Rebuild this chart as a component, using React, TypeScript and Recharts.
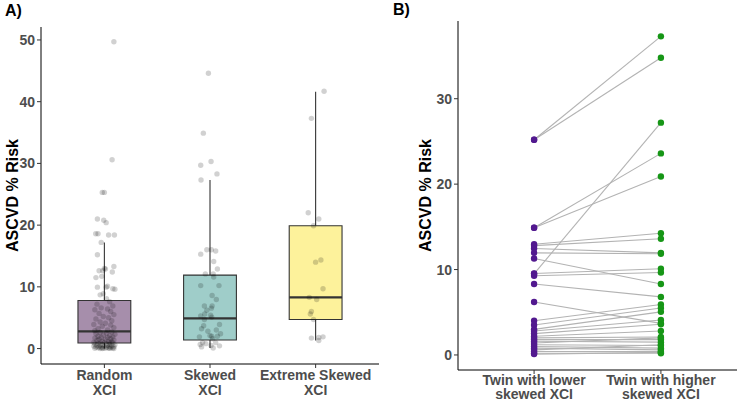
import {
  ScatterChart, Scatter, XAxis, YAxis, ReferenceArea, ReferenceLine,
} from 'recharts';

// Panel A: box summaries per XCI group
const boxCategories = [1, 2, 3];
const boxTickLines = [['Random', 'XCI'], ['Skewed', 'XCI'], ['Extreme Skewed', 'XCI']];
const boxLower = [0, 0.1, 1.3];
const boxQ1 = [0.9, 1.4, 4.7];
const boxMedian = [2.8, 4.9, 8.3];
const boxQ3 = [7.8, 11.9, 19.9];
const boxUpper = [17.2, 27.3, 41.6];
const boxFills = ['#a68eab', '#9fcdc9', '#fdf29b'];

// [risk, jitter]
const randomPoints: [number, number][] = [
  [49.7, 0.09], [30.6, 0.073], [25.3, -0.02], [25.3, 0.0], [21.0, -0.066], [20.4, 0.017],
  [20.8, -0.006], [18.6, -0.082], [18.6, -0.06], [18.4, 0.04], [18.4, 0.095], [17.2, -0.03],
  [15.2, -0.066], [13.3, 0.09], [13.0, 0.0], [12.9, 0.01], [12.6, -0.05], [12.6, -0.015],
  [12.4, 0.075], [11.5, -0.08], [11.7, -0.025], [9.95, -0.066], [9.95, 0.017], [10.1, 0.03],
  [9.7, 0.08], [9.6, 0.1], [8.7, -0.04], [8.9, -0.01], [8.1, 0.02],
  [7.6, 0.05], [7.2, -0.07], [6.9, 0.08], [6.6, -0.03], [6.4, 0.03], [6.3, -0.09], [6.0, 0.06],
  [5.7, -0.05], [5.5, 0.09], [5.2, -0.01], [5.0, 0.04], [4.8, -0.08], [4.5, 0.07], [4.3, -0.04],
  [4.1, 0.01], [3.9, -0.1], [3.8, 0.06], [3.6, -0.02], [3.4, 0.09], [3.2, -0.06], [3.0, 0.03],
  [2.9, -0.09], [2.7, 0.07], [2.6, -0.04], [2.5, 0.02], [2.4, -0.08], [2.3, 0.1], [2.2, -0.01],
  [2.1, 0.05], [2.0, -0.06], [1.9, 0.08], [1.8, -0.03], [1.8, 0.03], [1.7, -0.09], [1.6, 0.06],
  [1.5, -0.05], [1.5, 0.01], [1.4, 0.09], [1.3, -0.07], [1.2, 0.04], [1.2, -0.02], [1.1, 0.07],
  [1.0, -0.1], [1.0, 0.0], [0.95, 0.05], [0.92, -0.04], [0.9, 0.08], [0.85, -0.06], [0.8, 0.02],
  [0.75, -0.09], [0.7, 0.05], [0.65, -0.02], [0.6, 0.1], [0.55, -0.07], [0.5, 0.03], [0.5, -0.04],
  [0.45, 0.07], [0.4, -0.1], [0.4, 0.0], [0.35, 0.05], [0.3, -0.05], [0.3, 0.09], [0.25, -0.08],
  [0.2, 0.02], [0.2, -0.03], [0.15, 0.06], [0.12, -0.06], [0.1, 0.04], [0.1, -0.01], [0.08, 0.08],
  [0.05, -0.09], [0.05, 0.01], [0.03, 0.05], [0.02, -0.04], [0.01, 0.09], [0.0, -0.02],
];
const skewedPoints: [number, number][] = [
  [44.6, -0.015], [34.9, -0.063], [29.7, -0.088], [30.3, 0.01], [28.3, 0.066], [27.3, -0.085],
  [15.3, -0.088], [16.0, -0.03], [16.0, 0.013], [15.8, 0.054], [14.1, 0.035], [12.9, 0.07],
  [12.1, -0.044], [12.1, 0.03], [11.6, 0.035], [10.2, -0.088], [10.2, 0.085], [8.6, 0.02],
  [7.95, 0.06], [6.9, -0.053], [6.9, 0.02], [6.55, 0.013], [6.2, -0.03], [5.6, -0.05],
  [5.3, -0.088], [5.4, 0.006], [4.7, -0.053], [5.1, 0.016], [3.9, 0.09], [3.7, -0.06],
  [3.2, -0.08], [2.8, -0.02], [3.0, 0.06], [2.4, 0.1], [1.9, -0.1], [2.0, 0.016], [0.97, -0.07],
  [2.1, 0.0], [1.6, 0.025], [0.27, -0.08], [0.8, -0.04], [0.5, 0.01], [0.1, 0.03], [0.44, 0.09],
  [0.97, 0.054], [0.65, -0.093], [2.0, 0.07],
];
const extremePoints: [number, number][] = [
  [41.7, 0.08], [37.3, -0.04], [22.0, -0.07], [21.0, 0.03], [19.9, -0.02], [14.0, 0.0],
  [14.35, 0.05], [9.7, 0.07], [8.3, -0.06], [7.95, 0.01], [6.0, -0.04], [5.6, -0.05],
  [4.7, -0.02], [1.7, -0.04], [1.8, 0.03], [1.9, 0.07], [1.3, 0.03],
];

// Panel B: twin pairs
const pairTickLines = [['Twin with lower', 'skewed XCI'], ['Twin with higher', 'skewed XCI']];
const lowerTwin = [
  25.2, 25.2, 14.9, 14.9, 12.97, 12.8, 12.46, 11.95, 11.3, 9.5, 9.54, 9.27, 8.3, 6.2, 4.0, 3.5,
  3.0, 2.8, 2.5, 2.2, 2.0, 1.8, 1.6, 1.4, 1.2, 1.0, 0.8, 0.6, 0.4, 0.2, 0.1,
];
const higherTwin = [
  37.3, 34.8, 23.6, 20.9, 14.25, 13.6, 11.95, 11.85, 8.3, 27.2, 10.1, 9.66, 6.8, 3.7, 5.9, 5.5,
  5.05, 4.1, 3.6, 2.8, 2.1, 1.8, 1.5, 2.0, 1.1, 0.8, 0.6, 1.2, 0.4, 0.2, 0.3,
];

const FONT = '"Liberation Sans", Arial, sans-serif';
const tickGrey = '#4d4d4d';

function toScatter(points: [number, number][], cat: number) {
  return points.map(([risk, jit]) => ({ x: cat + jit, y: risk }));
}

const JitterDot = (props: any) => (
  <circle cx={props.cx} cy={props.cy} r={2.7} fill="#000" fillOpacity={0.18} />
);

const makeDot = (color: string) => (props: any) => (
  <circle cx={props.cx} cy={props.cy} r={3.2} fill={color} />
);
const NoDot = () => <g />;

const MultiLineTick = ({ x, y, payload, lines, first, gap }: any) => {
  const parts: string[] = lines[Math.round(payload.value) - 1] ?? [];
  return (
    <text x={x} y={y} textAnchor="middle" fill={tickGrey} fontSize={14} fontWeight={700} fontFamily={FONT}>
      {parts.map((p, i) => (
        <tspan key={i} x={x} dy={i === 0 ? first : gap}>{p}</tspan>
      ))}
    </text>
  );
};

const yTick = { fontSize: 14, fontWeight: 700, fill: tickGrey, fontFamily: FONT };
const yLabelStyle = { fontSize: 16, fontWeight: 700, fill: '#000', fontFamily: FONT, textAnchor: 'middle' as const };

function PanelA() {
  return (
    <ScatterChart width={380} height={402} margin={{ top: 27, right: 1, bottom: 0, left: 0 }}>
      <XAxis
        type="number"
        dataKey="x"
        domain={[0.4, 3.6]}
        ticks={boxCategories}
        height={38}
        axisLine={{ stroke: '#000' }}
        tickLine={{ stroke: '#333' }}
        tickSize={4}
        tick={<MultiLineTick lines={boxTickLines} first={10} gap={15} />}
        interval={0}
      />
      <YAxis
        type="number"
        dataKey="y"
        domain={[-2.5, 52.1]}
        ticks={[0, 10, 20, 30, 40, 50]}
        width={41}
        axisLine={{ stroke: '#000' }}
        tickLine={{ stroke: '#333' }}
        tickSize={4}
        tick={yTick}
        label={{ value: 'ASCVD % Risk', angle: -90, position: 'insideLeft', offset: 12, style: yLabelStyle }}
      />
      {boxCategories.map((c, i) => (
        <ReferenceLine
          key={`wu${c}`}
          segment={[{ x: c, y: boxQ3[i] }, { x: c, y: boxUpper[i] }]}
          stroke="#333"
          strokeWidth={1.1}
        />
      ))}
      {boxCategories.map((c, i) => (
        <ReferenceLine
          key={`wl${c}`}
          segment={[{ x: c, y: boxLower[i] }, { x: c, y: boxQ1[i] }]}
          stroke="#333"
          strokeWidth={1.1}
        />
      ))}
      {boxCategories.map((c, i) => (
        <ReferenceArea
          key={`b${c}`}
          x1={c - 0.25}
          x2={c + 0.25}
          y1={boxQ1[i]}
          y2={boxQ3[i]}
          fill={boxFills[i]}
          fillOpacity={1}
          stroke="#333"
          strokeWidth={1.1}
        />
      ))}
      {boxCategories.map((c, i) => (
        <ReferenceLine
          key={`m${c}`}
          segment={[{ x: c - 0.25, y: boxMedian[i] }, { x: c + 0.25, y: boxMedian[i] }]}
          stroke="#333"
          strokeWidth={2.2}
        />
      ))}
      <Scatter data={toScatter(randomPoints, 1)} shape={JitterDot} isAnimationActive={false} />
      <Scatter data={toScatter(skewedPoints, 2)} shape={JitterDot} isAnimationActive={false} />
      <Scatter data={toScatter(extremePoints, 3)} shape={JitterDot} isAnimationActive={false} />
    </ScatterChart>
  );
}

function PanelB() {
  return (
    <ScatterChart width={360} height={402} margin={{ top: 21, right: 3, bottom: 0, left: 0 }}>
      <XAxis
        type="number"
        dataKey="x"
        domain={[0.4, 2.6]}
        ticks={[1, 2]}
        height={32}
        axisLine={{ stroke: '#000' }}
        tickLine={{ stroke: '#333' }}
        tickSize={4}
        tick={<MultiLineTick lines={pairTickLines} first={8.5} gap={14.5} />}
        interval={0}
      />
      <YAxis
        type="number"
        dataKey="y"
        domain={[-1.76, 39.1]}
        ticks={[0, 10, 20, 30]}
        width={78}
        axisLine={{ stroke: '#000' }}
        tickLine={{ stroke: '#333' }}
        tickSize={4}
        tick={yTick}
        label={{ value: 'ASCVD % Risk', angle: -90, position: 'insideLeft', offset: 45, style: yLabelStyle }}
      />
      {lowerTwin.map((lo, i) => (
        <Scatter
          key={`p${i}`}
          data={[{ x: 1, y: lo }, { x: 2, y: higherTwin[i] }]}
          line={{ stroke: '#b3b3b3', strokeWidth: 1.1 }}
          shape={NoDot}
          isAnimationActive={false}
        />
      ))}
      <Scatter data={lowerTwin.map(v => ({ x: 1, y: v }))} shape={makeDot('#52198f')} isAnimationActive={false} />
      <Scatter data={higherTwin.map(v => ({ x: 2, y: v }))} shape={makeDot('#169616')} isAnimationActive={false} />
    </ScatterChart>
  );
}

export default function App() {
  return (
    <div style={{ position: 'absolute', left: 0, top: 0, width: 740, height: 402, background: '#fff', fontFamily: FONT }}>
      <div style={{ position: 'absolute', left: 0, top: 0 }}>
        <PanelA />
      </div>
      <div style={{ position: 'absolute', left: 380, top: 0 }}>
        <PanelB />
      </div>
      <div style={{ position: 'absolute', left: 5, top: 2, fontSize: 16, fontWeight: 700, color: '#000' }}>A)</div>
      <div style={{ position: 'absolute', left: 393, top: 1, fontSize: 16, fontWeight: 700, color: '#000' }}>B)</div>
    </div>
  );
}
